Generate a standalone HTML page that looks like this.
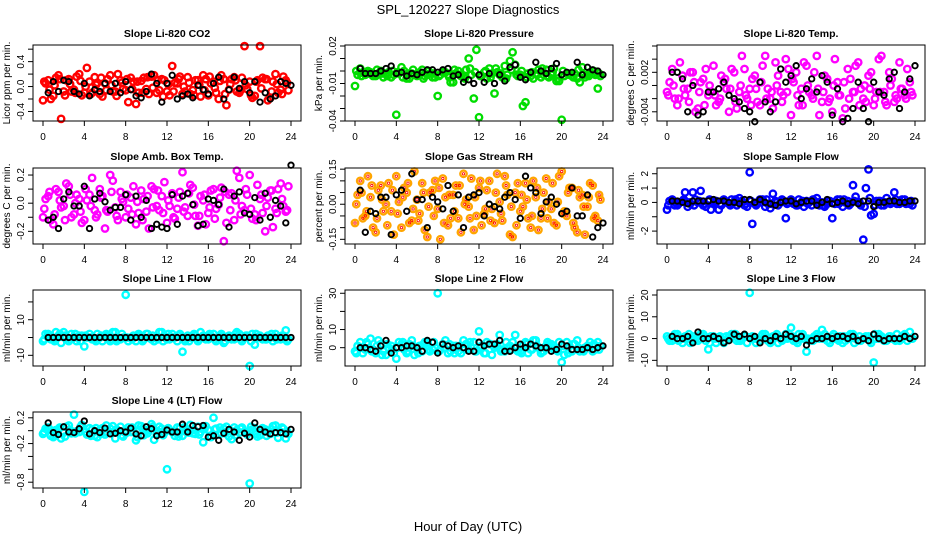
<!DOCTYPE html>
<html><head><meta charset="utf-8">
<style>
html,body{margin:0;padding:0;background:#fff;}
svg{display:block;font-family:"Liberation Sans",Arial,sans-serif;}
</style></head>
<body>
<svg id="chart" width="936" height="540" viewBox="0 0 936 540" xmlns="http://www.w3.org/2000/svg">
<rect width="936" height="540" fill="#fff"/>
<text x="468" y="14" text-anchor="middle" font-size="13">SPL_120227  Slope Diagnostics</text>
<text x="468" y="531" text-anchor="middle" font-size="13">Hour of Day (UTC)</text>
</svg>
<script>
// ---- data (hour tick labels) ----
const hourTicks = [0,4,8,12,16,20,24];
// colored series A at hours 0,0.5,...; B at 0.25,0.75,...; C at 0.125,0.625,...; black K at 0.5,1.0,...,24
const co2A=[-22,10,-15,18,-8,12,-5,20,-10,8,15,-12,5,18,-8,10,-6,14,-28,9,-4,16,-10,12,-8,33,5,-12,15,-6,10,18,-14,8,-20,12,-5,15,-10,65,8,-15,65,12,-18,20,-5,10];
const co2B=[5,-20,14,-52,10,-8,16,-14,30,-10,6,-16,12,-8,20,-4,-25,8,-10,14,-12,18,-6,10,-14,6,16,-8,-12,10,-16,12,5,-10,18,-30,12,-8,14,-4,-18,10,14,-22,8,-10,16,-6];
const co2C=[8,-5,2,12,-14,4,-10,9,0,-12,3,14,-6,2,-15,6,12,-4,8,-10,15,-2,10,-16,4,-8,12,0,6,-14,3,-6,16,-2,9,-12,4,10,-6,2,-14,8,-3,12,-8,4,-12,6];
const co2K=[-10,8,-8,10,8,-8,-12,5,-15,-5,-8,5,-8,5,-10,8,-5,-15,-18,-8,20,5,-25,5,18,-20,-15,-12,-18,2,-5,-12,5,15,-20,-5,15,-3,8,-10,8,-25,-10,-20,-15,8,5,2];
const presA=[-12,2,-3,-1,-4,0,-2,-5,-35,3,-6,-2,-4,1,-3,-5,-20,-1,-3,-9,0,-4,10,-22,-37,-1,2,-18,-3,4,8,5,-3,-25,-4,-2,-5,1,-3,-8,-39,-2,-4,-6,3,-3,-2,-14];
const presB=[-3,-1,0,-4,-2,-5,-1,-3,-2,0,-6,-3,-1,-4,-2,-5,-3,-1,-9,-2,-4,1,-3,17,-4,-6,-2,-1,-5,-3,15,-4,-28,-2,-6,1,-3,-5,2,-8,-4,-3,-2,-9,-5,-1,-3,-4];
const presC=[0,-4,-1,-3,1,-2,-4,0,-1,-5,-2,1,-3,-6,0,-2,-4,-1,-5,1,-3,-6,2,-1,-4,0,-5,2,-2,-6,1,-3,0,-5,-1,-3,2,-4,-1,-6,0,-2,-5,1,-3,-4,0,-2];
const presK=[2,-2,-2,-2,0,2,4,-2,-1,-4,-2,-3,-1,1,1,-1,1,2,-4,-3,-9,-7,-10,-3,-9,-2,-10,-3,-8,3,5,-5,-7,-1,7,0,-2,2,6,-3,-1,-1,7,-3,3,1,0,-3];
const tempA=[-10,25,-30,15,-5,20,-35,10,-15,30,-25,5,-40,20,-10,25,-5,15,-30,45,-20,35,-10,40,-45,20,-5,30,-15,45,-25,10,-40,5,-50,25,-10,35,-20,15,-30,40,-10,20,-25,35,-15,5];
const tempB=[5,-20,35,-15,20,-40,5,25,-10,-30,15,-5,25,-35,45,-20,10,-25,30,-5,-35,15,-15,25,5,-30,35,-10,20,-45,15,-20,40,-15,-35,10,30,-5,-25,20,-10,45,-30,10,-20,-5,25,-15];
const tempC=[-15,0,-20,-5,-25,5,-10,-30,0,-15,-20,10,-5,-25,0,-15,-30,-5,5,-20,-10,0,-25,-10,10,-15,-30,0,-20,-5,-10,-25,0,-15,5,-20,-10,-30,0,-5,-20,-10,-25,0,-15,-5,-20,-10];
const tempK=[20,20,10,-40,0,-45,-40,-10,-10,-5,5,-15,-20,-25,-35,-40,-55,5,-25,-40,-25,25,5,15,30,-20,-5,10,-10,15,5,-45,-5,-55,-50,-35,5,-35,-55,5,-10,-15,10,20,-35,-10,10,30];
const ambA=[-10,5,-15,8,-2,12,-8,3,-12,6,-5,10,-18,20,-3,8,-10,4,-15,9,-6,12,-2,5,-14,7,-4,22,-9,11,-16,2,-7,10,-1,-27,6,-12,18,-5,20,-8,3,-20,9,-4,14,-6];
const ambB=[3,-12,10,-3,14,-10,6,-14,2,18,-8,5,-6,16,-12,1,-4,12,-7,3,-18,10,-5,15,-2,-11,8,-3,13,-9,5,-15,9,-4,11,-14,7,23,-2,6,-11,13,-7,4,-17,10,-2,12];
const ambC=[-4,8,-8,2,-12,6,0,-6,10,-2,-10,4,-5,8,-9,3,6,-8,1,-12,5,-3,9,-7,2,-10,4,-6,7,-1,-9,6,-3,-11,4,8,-5,2,-8,10,-4,-12,6,-2,9,-7,3,-5];
const ambK=[-12,-10,-18,3,8,-2,-2,12,-18,3,7,1,-5,-3,-3,6,-12,5,-10,2,-18,-15,-17,-18,6,-15,5,7,-1,-16,-15,3,2,-1,10,-17,5,8,-7,-8,4,-12,7,-10,2,-2,-14,27];
const rhA=[-8,10,-5,3,-12,8,0,-3,12,-10,5,-7,2,9,-14,6,-2,11,-9,4,-6,13,-1,-11,7,-4,10,-8,1,12,-13,5,-3,9,-10,3,-6,11,-2,-9,14,-5,7,-12,4,-1,8,-7];
const rhB=[4,-6,12,-10,6,-3,9,-13,1,7,-8,14,-4,-11,5,10,-15,3,-6,8,-12,2,11,-5,-9,6,-2,13,-7,4,-14,9,-1,-6,10,-11,5,1,-8,12,-3,7,-10,3,-13,9,-5,2];
const rhC=[0,5,-3,8,-6,2,-9,6,-4,3,9,-2,-7,5,-1,-5,7,-8,4,-3,8,0,-6,3,10,-2,-7,5,-4,8,-1,-9,4,2,-5,7,-2,-6,9,1,-4,5,-8,6,-1,3,-6,4];
const rhK=[6,-12,-3,-4,3,3,-13,4,6,-3,13,2,2,-10,3,1,-2,8,-3,4,-10,3,4,5,-5,0,-1,-2,3,5,2,-6,12,7,5,-4,1,3,0,-4,-3,7,-5,-5,4,-14,-10,-8];
const sfA=[-5,2,-2,1,-3,7,0,-2,1,-1,-5,2,-1,0,3,-2,21,-1,2,-3,-4,1,0,-11,2,-2,0,1,-2,3,0,-1,-11,2,-3,1,12,0,-26,23,-8,1,-2,0,7,-1,2,-1];
const sfB=[1,-2,0,7,-1,2,8,-3,-5,1,-2,0,2,-2,1,-3,-15,0,2,-1,6,-2,1,0,-1,2,-3,0,1,-2,-3,1,-1,2,0,-1,4,-2,10,-9,1,-2,3,0,-1,2,0,-2];
const sfC=[-2,1,-1,2,0,-2,1,-1,2,0,-1,1,-2,2,0,-1,1,-2,0,2,-1,0,2,-1,0,-2,1,-1,2,0,-2,1,0,-1,2,-2,1,0,-3,3,-2,1,0,-1,2,0,-1,1];
const sfK=[1,1,0,-1,1,1,1,1,2,1,1,0,0,-1,2,2,0,2,0,-1,-2,0,1,1,-1,0,1,1,-2,0,2,-1,0,1,-1,0,-1,1,1,-3,0,0,1,1,0,0,1,1];
const l1A=[-2,2,-1,1,3,-2,0,1,-5,2,-1,0,1,-2,3,-1,24,0,-2,1,2,-1,0,3,-1,2,-2,-8,1,0,-2,1,-1,2,0,-3,1,-1,2,0,-16,-4,1,-1,0,2,-1,4];
const l1B=[2,-1,3,-3,0,2,-2,1,0,-1,2,-2,1,3,-1,0,-2,1,2,-1,0,-2,3,1,-1,0,2,-2,0,1,3,-1,1,-2,2,0,-1,3,-2,1,2,0,-1,1,-2,0,1,-1];
const l1C=[-1,1,-2,2,1,-1,2,-2,1,0,-2,1,2,-1,-2,2,0,-1,1,-2,2,1,-1,-2,2,0,1,-1,-2,2,-1,0,2,-1,1,-2,0,2,-1,1,-2,2,0,-1,2,-1,1,-2];
const l1K=[0,0,0,0,0,0,0,0,0,0,0,0,0,0,0,0,0,0,0,0,0,0,0,0,0,0,0,0,0,0,0,0,0,0,0,0,0,0,0,0,0,0,0,0,0,0,0,0];
const l2A=[-2,3,-1,5,-3,2,-4,1,-6,2,-3,4,0,-2,3,-1,30,2,-3,1,-2,4,-1,3,9,-3,2,0,7,-2,1,7,-2,3,-1,4,-3,1,2,-1,-8,3,-2,4,-1,1,-2,3];
const l2B=[1,-3,2,-1,4,-2,0,-3,3,-1,2,-4,1,3,-2,0,-1,4,-2,1,-3,2,0,-2,1,3,-4,2,-1,0,3,-2,1,-3,4,0,-2,2,-1,3,-4,1,2,-2,0,3,-1,1];
const l2C=[-3,0,3,-2,1,-4,2,-1,0,3,-2,1,-3,2,-1,3,-2,0,2,-3,1,-1,3,-2,0,-3,2,1,-2,3,-1,0,-3,2,-1,1,-2,3,0,-2,1,-3,2,0,-2,1,2,-1];
const l2K=[0,0,-1,-2,1,4,-3,0,0,1,1,0,-2,4,3,-3,2,1,0,1,0,-2,-2,3,1,2,2,4,-2,-2,0,2,0,2,1,0,0,-2,-1,2,1,-1,-1,-1,0,-1,0,1];
const l3A=[1,-1,2,-2,0,1,-1,2,-5,1,0,-2,1,2,-1,1,21,0,-1,2,-2,1,0,2,5,-1,1,-6,0,2,4,-1,1,0,-2,1,2,-1,0,1,-11,2,-1,1,0,-1,2,3];
const l3B=[-1,2,0,1,-2,0,2,-1,1,-2,0,1,2,-1,0,-2,1,0,2,-1,1,-2,0,1,-1,2,0,-1,1,0,2,-2,0,1,-1,2,0,-1,1,-2,0,1,-1,0,2,1,-1,0];
const l3C=[0,1,-1,0,2,-1,0,1,-2,0,1,-1,0,2,-1,1,0,-2,1,0,-1,2,-1,0,1,-2,2,0,-1,1,0,-1,2,-1,1,0,-2,1,0,-1,2,0,-1,1,-1,0,1,0];
const l3K=[1,0,0,1,-2,3,0,0,1,0,-2,-1,2,1,2,0,1,-2,0,-1,1,0,2,1,0,1,-3,-1,0,0,1,0,1,1,0,1,-1,0,-1,2,0,-1,0,0,0,1,0,1];
const l4A=[-5,5,-10,2,-3,8,25,-2,-95,4,-8,1,-6,3,-12,6,-4,-2,-15,7,-1,10,-5,3,-60,-2,5,-8,2,-4,6,-18,1,20,-6,3,-9,5,-3,-1,-82,4,-7,2,-5,8,-2,-12];
const l4B=[3,-8,1,-12,6,-4,-1,9,-6,2,-10,4,-3,7,-1,-9,5,-2,8,-7,2,-14,6,-3,1,-8,4,-1,9,-5,-2,7,-10,3,-4,6,-13,1,5,-6,2,-9,4,-2,7,-11,3,-5];
const l4C=[-2,2,-6,5,-9,1,-4,6,-2,-8,4,-5,8,-3,2,-7,0,5,-10,3,-4,6,-1,-7,4,-2,-9,5,-3,1,-6,3,-8,2,5,-4,0,-7,3,-2,6,-5,1,-8,2,-3,5,-1];
const l4K=[12,-3,-6,6,-2,-3,3,15,-5,0,-3,4,-5,-4,0,-2,4,-5,-8,6,3,-8,-6,1,-2,-2,10,-2,8,6,8,-10,-8,-15,-4,2,-2,-15,-4,-10,12,2,-2,-5,-3,-3,-5,2];
// y tick values and printed labels per panel
const co2Ticks=[-0.4,-0.2,0,0.2,0.4,0.6];  const co2Labels=["-0.4","0.0","0.4"];
const presTicks=[-0.04,-0.03,-0.02,-0.01,0,0.01,0.02]; const presLabels=["-0.04","-0.01","0.02"];
const tempTicks=[-0.004,-0.002,0,0.002,0.004,0.006]; const tempLabels=["-0.004","0.002"];
const ambTicks=[-0.2,-0.1,0,0.1,0.2]; const ambLabels=["-0.2","0.0","0.2"];
const rhTicks=[-0.15,-0.1,-0.05,0,0.05,0.1,0.15]; const rhLabels=["-0.15","0.00","0.15"];
const sfTicks=[-2,-1,0,1,2]; const sfLabels=["-2","0","1","2"];
const l1Ticks=[-10,0,10,20]; const l1Labels=["-10","10"];
const l2Ticks=[0,10,20,30]; const l2Labels=["0","10","30"];
const l3Ticks=[-10,0,10,20]; const l3Labels=["-10","0","10","20"];
const l4Ticks=[-0.8,-0.6,-0.4,-0.2,0,0.2]; const l4Labels=["-0.8","-0.2","0.2"];

const NS="http://www.w3.org/2000/svg";
const svg=document.getElementById('chart');
const colX=[33,345,657], rowTop=[45,168,290,412], boxW=268, boxH=76;
function mk(tag,attrs,parent){const e=document.createElementNS(NS,tag);for(const k in attrs)e.setAttribute(k,attrs[k]);(parent||svg).appendChild(e);return e;}

const panels=[
 {key:'co2',title:'Slope Li-820 CO2',ylab:'Licor ppm per min.',col:0,row:0,top:0.667,bot:-0.553,unit:0.01,color:'#ff0000',A:co2A,B:co2B,C:co2C,K:co2K,ticks:co2Ticks,labels:co2Labels},
 {key:'pressure',title:'Slope Li-820 Pressure',ylab:'kPa per min.',col:1,row:0,top:0.0208,bot:-0.040,unit:0.001,color:'#00dd00',A:presA,B:presB,C:presC,K:presK,ticks:presTicks,labels:presLabels},
 {key:'temp',title:'Slope Li-820 Temp.',ylab:'degrees C per min.',col:2,row:0,top:0.00615,bot:-0.0054,unit:0.0001,color:'#ff00ff',A:tempA,B:tempB,C:tempC,K:tempK,ticks:tempTicks,labels:tempLabels},
 {key:'amb-box-temp',title:'Slope Amb. Box Temp.',ylab:'degrees C per min.',col:0,row:1,top:0.25,bot:-0.29,unit:0.01,color:'#ff00ff',A:ambA,B:ambB,C:ambC,K:ambK,ticks:ambTicks,labels:ambLabels},
 {key:'gas-rh',title:'Slope Gas Stream RH',ylab:'percent per min.',col:1,row:1,top:0.155,bot:-0.17,unit:0.01,color:'#ffa500',A:rhA,B:rhB,C:rhC,K:rhK,ticks:rhTicks,labels:rhLabels},
 {key:'sample-flow',title:'Slope Sample Flow',ylab:'ml/min per min.',col:2,row:1,top:2.4,bot:-2.9,unit:0.1,color:'#0000ff',A:sfA,B:sfB,C:sfC,K:sfK,ticks:sfTicks,labels:sfLabels},
 {key:'line1',title:'Slope Line 1 Flow',ylab:'ml/min per min.',col:0,row:2,top:26.7,bot:-16,unit:1,color:'#00ffff',A:l1A,B:l1B,C:l1C,K:l1K,ticks:l1Ticks,labels:l1Labels},
 {key:'line2',title:'Slope Line 2 Flow',ylab:'ml/min per min.',col:1,row:2,top:31.8,bot:-10.1,unit:1,color:'#00ffff',A:l2A,B:l2B,C:l2C,K:l2K,ticks:l2Ticks,labels:l2Labels},
 {key:'line3',title:'Slope Line 3 Flow',ylab:'ml/min per min.',col:2,row:2,top:22.3,bot:-12.6,unit:1,color:'#00ffff',A:l3A,B:l3B,C:l3C,K:l3K,ticks:l3Ticks,labels:l3Labels},
 {key:'line4',title:'Slope Line 4 (LT) Flow',ylab:'ml/min per min.',col:0,row:3,top:0.29,bot:-0.89,unit:0.01,color:'#00ffff',A:l4A,B:l4B,C:l4C,K:l4K,ticks:l4Ticks,labels:l4Labels}
];

panels.forEach(p=>{
  const bx=colX[p.col], by=rowTop[p.row];
  const g=mk('g',{});
  
  
  const xs=h=>bx+10+h*(boxW-20)/24;
  const ys=v=>by+(p.top-v)/(p.top-p.bot)*boxH;
  const t=mk('text',{x:bx+boxW/2,y:by-8,'text-anchor':'middle','font-size':'10.5','font-weight':'bold'},g);
  t.textContent=p.title;
  
  
  const pts=mk('g',{fill:'none'},g);
  
  
  const draw=(arr,off,color,r,sw)=>arr.forEach((v,i)=>{
    const h=off+i*0.5;
    const c=mk('circle',{cx:xs(h).toFixed(1),cy:ys(v*p.unit).toFixed(1),r:r,stroke:color,'stroke-width':sw},pts);
    
    
  });
  draw(p.A,0,p.color,3.2,2.4);
  draw(p.B,0.25,p.color,3.2,2.4);
  draw(p.C,0.125,p.color,3.2,2.4);
  if(p.key==='gas-rh'){draw(p.A,0,'#ff0000',1.2,0.8);draw(p.B,0.25,'#ff0000',1.2,0.8);draw(p.C,0.125,'#ff0000',1.2,0.8);}
  draw(p.K,0.5,'#000',2.7,1.9);
  const box=mk('rect',{x:bx,y:by,width:boxW,height:boxH,fill:'none',stroke:'#000','stroke-width':1},g);
  
  
  const xa=mk('g',{},g);
  
  
  mk('line',{x1:xs(0),x2:xs(24),y1:by+boxH,y2:by+boxH,stroke:'#000'},xa);
  hourTicks.forEach(h=>{
    mk('line',{x1:xs(h),x2:xs(h),y1:by+boxH,y2:by+boxH+5,stroke:'#000'},xa);
    const l=mk('text',{x:xs(h),y:by+boxH+19,'text-anchor':'middle','font-size':'10'},xa);
    l.textContent=h;
  });
  const ya=mk('g',{},g);
  
  
  const tv=p.ticks.filter(v=>ys(v)>=by-2&&ys(v)<=by+boxH+2);
  mk('line',{x1:bx,x2:bx,y1:ys(Math.min(...tv)),y2:ys(Math.max(...tv)),stroke:'#000'},ya);
  tv.forEach(v=>mk('line',{x1:bx-5,x2:bx,y1:ys(v),y2:ys(v),stroke:'#000'},ya));
  p.labels.forEach(s=>{
    const v=parseFloat(s), yy=ys(v);
    const l=mk('text',{x:0,y:0,'text-anchor':'middle','font-size':'10',transform:`translate(${bx-9},${yy}) rotate(-90)`},ya);
    l.textContent=s;
  });
  const yl=mk('text',{x:0,y:0,'text-anchor':'middle','font-size':'10',transform:`translate(${bx-23},${by+boxH/2}) rotate(-90)`},g);
  yl.textContent=p.ylab;
  
  
});
</script>
</body></html>
